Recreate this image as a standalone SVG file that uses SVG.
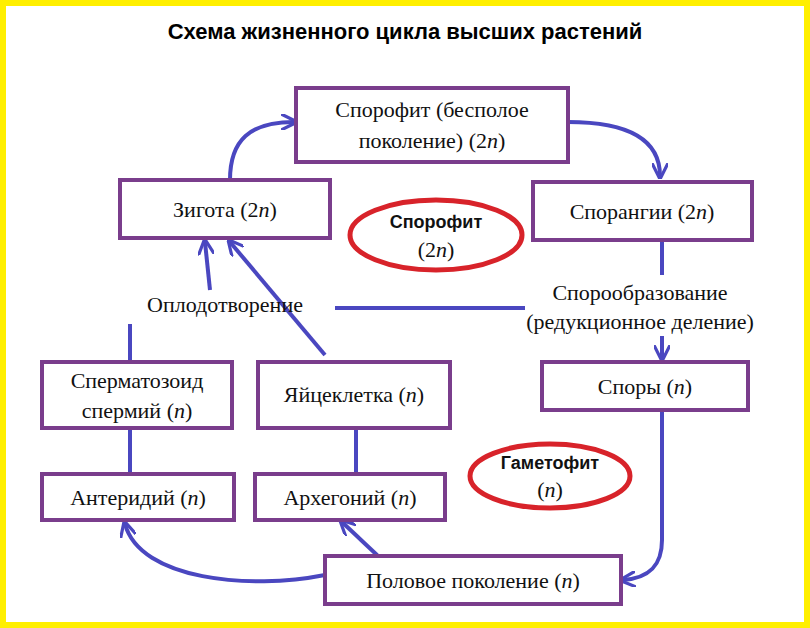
<svg xmlns="http://www.w3.org/2000/svg" width="810" height="628" viewBox="0 0 810 628">
<style>
.b{fill:#fff;stroke:#7a3d8c;stroke-width:4}
.t{font-family:"Liberation Serif",serif;font-size:22px;fill:#111;text-anchor:middle}
.e{fill:none;stroke:#d8232a;stroke-width:5}
.eb{font-family:"Liberation Sans",sans-serif;font-weight:bold;font-size:18px;fill:#111;text-anchor:middle}
.c{fill:none;stroke:#4a47c0;stroke-width:4}
</style>
<defs><marker id="a" viewBox="0 0 10 10" refX="8" refY="5" markerWidth="4" markerHeight="4" orient="auto"><path d="M0,0L10,5L0,10" fill="none" stroke="#4a47c0" stroke-width="2"/></marker></defs>
<rect x="3" y="3" width="804" height="622" fill="#fff" stroke="#ffef00" stroke-width="6"/>
<text x="405" y="39" font-family="Liberation Sans,sans-serif" font-weight="bold" font-size="22" text-anchor="middle">Схема жизненного цикла высших растений</text>
<g id="connectors">
<path class="c" marker-end="url(#a)" d="M230,180 C230,140 250,122 294,122"/>
<path class="c" marker-end="url(#a)" d="M568,122 C630,122 660,140 660,176"/>
<path class="c" d="M662,240 V275"/>
<path class="c" marker-end="url(#a)" d="M662,336 V358"/>
<path class="c" d="M335,308 H525"/>
<path class="c" marker-end="url(#a)" d="M210,290 L205,242"/>
<path class="c" marker-end="url(#a)" d="M325,355 L230,242"/>
<path class="c" d="M130,362 V324"/>
<path class="c" d="M130,474 V428"/>
<path class="c" d="M356,474 V428"/>
<path class="c" marker-end="url(#a)" d="M662,410 V540 C662,565 650,578 623,580"/>
<path class="c" marker-end="url(#a)" d="M325,575 C250,590 140,580 125,524"/>
<path class="c" marker-end="url(#a)" d="M378,556 L342,522"/>
</g>
<g id="sporofit"><rect class="b" x="296" y="88" width="272" height="74"/><text class="t" x="432" y="117">Спорофит (бесполое</text><text class="t" x="432" y="148">поколение) (2<tspan font-style="italic">n</tspan>)</text></g>
<g id="zigota"><rect class="b" x="120" y="180" width="210" height="58"/><text class="t" x="225" y="217">Зигота (2<tspan font-style="italic">n</tspan>)</text></g>
<g id="sporangii"><rect class="b" x="533" y="182" width="219" height="58"/><text class="t" x="642" y="219">Спорангии (2<tspan font-style="italic">n</tspan>)</text></g>
<g id="sporofit-ell"><ellipse class="e" cx="436" cy="235" rx="86" ry="35"/><text class="eb" x="436" y="228">Спорофит</text><text class="t" x="436" y="257">(2<tspan font-style="italic">n</tspan>)</text></g>
<g id="oplod"><text class="t" x="225" y="312">Оплодотворение</text></g>
<g id="sporoobr"><text class="t" x="640" y="300">Спорообразование</text><text class="t" x="640" y="329">(редукционное деление)</text></g>
<g id="spermatozoid"><rect class="b" x="42" y="362" width="190" height="66"/><text class="t" x="137" y="388">Сперматозоид</text><text class="t" x="137" y="418">спермий (<tspan font-style="italic">n</tspan>)</text></g>
<g id="yaiceklet"><rect class="b" x="258" y="362" width="192" height="66"/><text class="t" x="354" y="402">Яйцеклетка (<tspan font-style="italic">n</tspan>)</text></g>
<g id="spory"><rect class="b" x="542" y="362" width="206" height="48"/><text class="t" x="645" y="394">Споры (<tspan font-style="italic">n</tspan>)</text></g>
<g id="gametofit-ell"><ellipse class="e" cx="550" cy="476" rx="80" ry="32"/><text class="eb" x="550" y="469">Гаметофит</text><text class="t" x="550" y="497">(<tspan font-style="italic">n</tspan>)</text></g>
<g id="anteridii"><rect class="b" x="42" y="474" width="192" height="46"/><text class="t" x="138" y="505">Антеридий (<tspan font-style="italic">n</tspan>)</text></g>
<g id="arhegonii"><rect class="b" x="255" y="474" width="190" height="46"/><text class="t" x="350" y="505">Архегоний (<tspan font-style="italic">n</tspan>)</text></g>
<g id="polovoe"><rect class="b" x="325" y="556" width="296" height="48"/><text class="t" x="473" y="588">Половое поколение (<tspan font-style="italic">n</tspan>)</text></g>
</svg>
